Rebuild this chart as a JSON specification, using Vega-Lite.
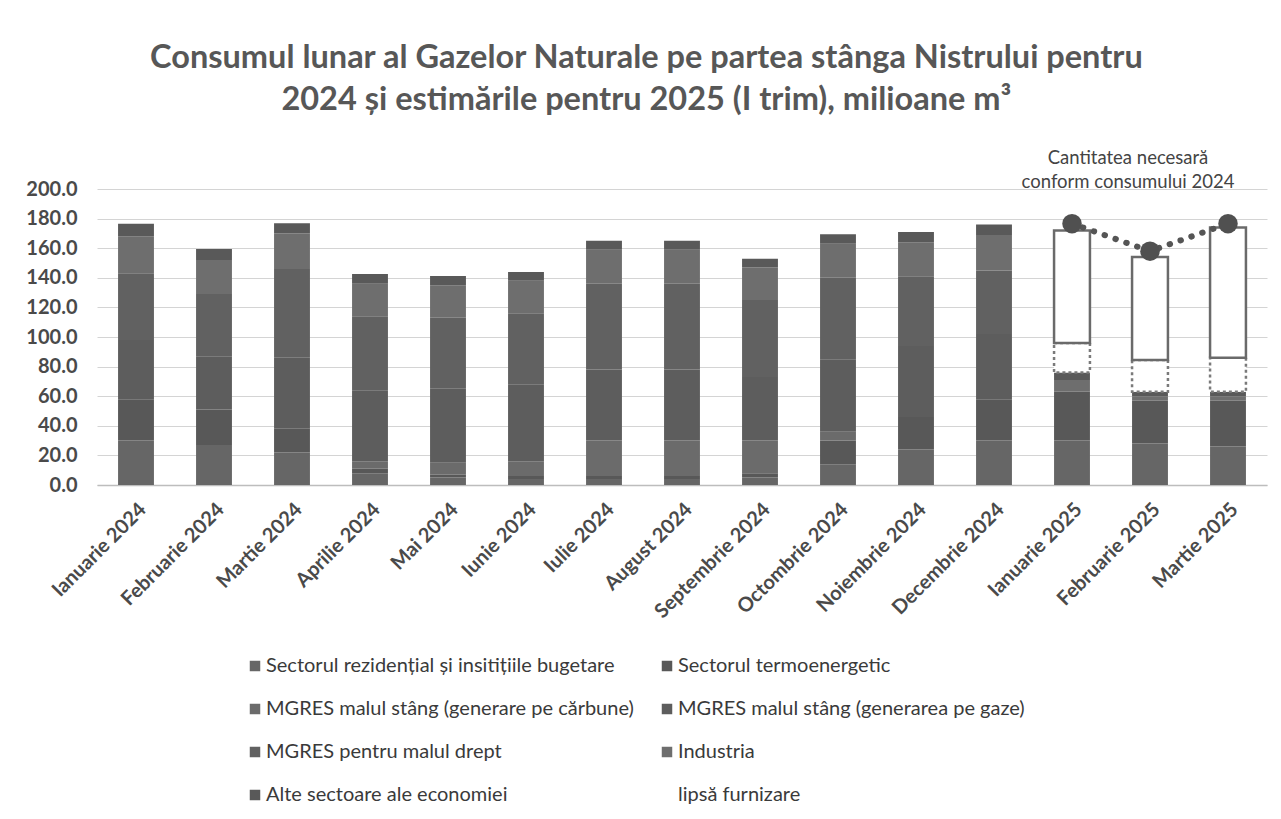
{
  "$schema": "https://vega.github.io/schema/vega-lite/v6.json",
  "width": 1170,
  "height": 296,
  "autosize": {"type": "none"},
  "padding": {"left": 97, "top": 189, "right": 14, "bottom": 334},
  "background": "white",
  "config": {
    "font": "Lato",
    "view": {"stroke": null}
  },
  "title": {
    "text": ["Consumul lunar al Gazelor Naturale pe partea stânga Nistrului pentru", "2024 și estimările pentru 2025 (I trim), milioane m³"],
    "fontSize": 32.5,
    "fontWeight": "bold",
    "color": "#575757",
    "lineHeight": 42,
    "anchor": "middle",
    "frame": "bounds",
    "offset": 32
  },
  "datasets": {
    "bars": [
      {"m": "Ianuarie 2024", "cat": "Sectorul rezidențial și insitițiile bugetare", "k": 1, "v": 30},
      {"m": "Ianuarie 2024", "cat": "Sectorul termoenergetic", "k": 2, "v": 28},
      {"m": "Ianuarie 2024", "cat": "MGRES malul stâng (generare pe cărbune)", "k": 3, "v": 0},
      {"m": "Ianuarie 2024", "cat": "MGRES malul stâng (generarea pe gaze)", "k": 4, "v": 40},
      {"m": "Ianuarie 2024", "cat": "MGRES pentru malul drept", "k": 5, "v": 45},
      {"m": "Ianuarie 2024", "cat": "Industria", "k": 6, "v": 25},
      {"m": "Ianuarie 2024", "cat": "Alte sectoare ale economiei", "k": 7, "v": 8.6},

      {"m": "Februarie 2024", "cat": "Sectorul rezidențial și insitițiile bugetare", "k": 1, "v": 27},
      {"m": "Februarie 2024", "cat": "Sectorul termoenergetic", "k": 2, "v": 24},
      {"m": "Februarie 2024", "cat": "MGRES malul stâng (generare pe cărbune)", "k": 3, "v": 0},
      {"m": "Februarie 2024", "cat": "MGRES malul stâng (generarea pe gaze)", "k": 4, "v": 36},
      {"m": "Februarie 2024", "cat": "MGRES pentru malul drept", "k": 5, "v": 42},
      {"m": "Februarie 2024", "cat": "Industria", "k": 6, "v": 23},
      {"m": "Februarie 2024", "cat": "Alte sectoare ale economiei", "k": 7, "v": 7.5},

      {"m": "Martie 2024", "cat": "Sectorul rezidențial și insitițiile bugetare", "k": 1, "v": 22},
      {"m": "Martie 2024", "cat": "Sectorul termoenergetic", "k": 2, "v": 16},
      {"m": "Martie 2024", "cat": "MGRES malul stâng (generare pe cărbune)", "k": 3, "v": 0},
      {"m": "Martie 2024", "cat": "MGRES malul stâng (generarea pe gaze)", "k": 4, "v": 48},
      {"m": "Martie 2024", "cat": "MGRES pentru malul drept", "k": 5, "v": 60},
      {"m": "Martie 2024", "cat": "Industria", "k": 6, "v": 24},
      {"m": "Martie 2024", "cat": "Alte sectoare ale economiei", "k": 7, "v": 6.8},

      {"m": "Aprilie 2024", "cat": "Sectorul rezidențial și insitițiile bugetare", "k": 1, "v": 8},
      {"m": "Aprilie 2024", "cat": "Sectorul termoenergetic", "k": 2, "v": 3},
      {"m": "Aprilie 2024", "cat": "MGRES malul stâng (generare pe cărbune)", "k": 3, "v": 5},
      {"m": "Aprilie 2024", "cat": "MGRES malul stâng (generarea pe gaze)", "k": 4, "v": 48},
      {"m": "Aprilie 2024", "cat": "MGRES pentru malul drept", "k": 5, "v": 50},
      {"m": "Aprilie 2024", "cat": "Industria", "k": 6, "v": 22},
      {"m": "Aprilie 2024", "cat": "Alte sectoare ale economiei", "k": 7, "v": 6.6},

      {"m": "Mai 2024", "cat": "Sectorul rezidențial și insitițiile bugetare", "k": 1, "v": 5},
      {"m": "Mai 2024", "cat": "Sectorul termoenergetic", "k": 2, "v": 2},
      {"m": "Mai 2024", "cat": "MGRES malul stâng (generare pe cărbune)", "k": 3, "v": 8},
      {"m": "Mai 2024", "cat": "MGRES malul stâng (generarea pe gaze)", "k": 4, "v": 50},
      {"m": "Mai 2024", "cat": "MGRES pentru malul drept", "k": 5, "v": 48},
      {"m": "Mai 2024", "cat": "Industria", "k": 6, "v": 22},
      {"m": "Mai 2024", "cat": "Alte sectoare ale economiei", "k": 7, "v": 6.2},

      {"m": "Iunie 2024", "cat": "Sectorul rezidențial și insitițiile bugetare", "k": 1, "v": 4},
      {"m": "Iunie 2024", "cat": "Sectorul termoenergetic", "k": 2, "v": 2},
      {"m": "Iunie 2024", "cat": "MGRES malul stâng (generare pe cărbune)", "k": 3, "v": 10},
      {"m": "Iunie 2024", "cat": "MGRES malul stâng (generarea pe gaze)", "k": 4, "v": 52},
      {"m": "Iunie 2024", "cat": "MGRES pentru malul drept", "k": 5, "v": 48},
      {"m": "Iunie 2024", "cat": "Industria", "k": 6, "v": 22},
      {"m": "Iunie 2024", "cat": "Alte sectoare ale economiei", "k": 7, "v": 6},

      {"m": "Iulie 2024", "cat": "Sectorul rezidențial și insitițiile bugetare", "k": 1, "v": 4},
      {"m": "Iulie 2024", "cat": "Sectorul termoenergetic", "k": 2, "v": 2},
      {"m": "Iulie 2024", "cat": "MGRES malul stâng (generare pe cărbune)", "k": 3, "v": 24},
      {"m": "Iulie 2024", "cat": "MGRES malul stâng (generarea pe gaze)", "k": 4, "v": 48},
      {"m": "Iulie 2024", "cat": "MGRES pentru malul drept", "k": 5, "v": 58},
      {"m": "Iulie 2024", "cat": "Industria", "k": 6, "v": 23},
      {"m": "Iulie 2024", "cat": "Alte sectoare ale economiei", "k": 7, "v": 6},

      {"m": "August 2024", "cat": "Sectorul rezidențial și insitițiile bugetare", "k": 1, "v": 4},
      {"m": "August 2024", "cat": "Sectorul termoenergetic", "k": 2, "v": 2},
      {"m": "August 2024", "cat": "MGRES malul stâng (generare pe cărbune)", "k": 3, "v": 24},
      {"m": "August 2024", "cat": "MGRES malul stâng (generarea pe gaze)", "k": 4, "v": 48},
      {"m": "August 2024", "cat": "MGRES pentru malul drept", "k": 5, "v": 58},
      {"m": "August 2024", "cat": "Industria", "k": 6, "v": 23},
      {"m": "August 2024", "cat": "Alte sectoare ale economiei", "k": 7, "v": 6},

      {"m": "Septembrie 2024", "cat": "Sectorul rezidențial și insitițiile bugetare", "k": 1, "v": 5},
      {"m": "Septembrie 2024", "cat": "Sectorul termoenergetic", "k": 2, "v": 3},
      {"m": "Septembrie 2024", "cat": "MGRES malul stâng (generare pe cărbune)", "k": 3, "v": 22},
      {"m": "Septembrie 2024", "cat": "MGRES malul stâng (generarea pe gaze)", "k": 4, "v": 43},
      {"m": "Septembrie 2024", "cat": "MGRES pentru malul drept", "k": 5, "v": 52},
      {"m": "Septembrie 2024", "cat": "Industria", "k": 6, "v": 22},
      {"m": "Septembrie 2024", "cat": "Alte sectoare ale economiei", "k": 7, "v": 5.9},

      {"m": "Octombrie 2024", "cat": "Sectorul rezidențial și insitițiile bugetare", "k": 1, "v": 14},
      {"m": "Octombrie 2024", "cat": "Sectorul termoenergetic", "k": 2, "v": 16},
      {"m": "Octombrie 2024", "cat": "MGRES malul stâng (generare pe cărbune)", "k": 3, "v": 6},
      {"m": "Octombrie 2024", "cat": "MGRES malul stâng (generarea pe gaze)", "k": 4, "v": 49},
      {"m": "Octombrie 2024", "cat": "MGRES pentru malul drept", "k": 5, "v": 55},
      {"m": "Octombrie 2024", "cat": "Industria", "k": 6, "v": 23},
      {"m": "Octombrie 2024", "cat": "Alte sectoare ale economiei", "k": 7, "v": 6.4},

      {"m": "Noiembrie 2024", "cat": "Sectorul rezidențial și insitițiile bugetare", "k": 1, "v": 24},
      {"m": "Noiembrie 2024", "cat": "Sectorul termoenergetic", "k": 2, "v": 22},
      {"m": "Noiembrie 2024", "cat": "MGRES malul stâng (generare pe cărbune)", "k": 3, "v": 0},
      {"m": "Noiembrie 2024", "cat": "MGRES malul stâng (generarea pe gaze)", "k": 4, "v": 48},
      {"m": "Noiembrie 2024", "cat": "MGRES pentru malul drept", "k": 5, "v": 47},
      {"m": "Noiembrie 2024", "cat": "Industria", "k": 6, "v": 23},
      {"m": "Noiembrie 2024", "cat": "Alte sectoare ale economiei", "k": 7, "v": 7},

      {"m": "Decembrie 2024", "cat": "Sectorul rezidențial și insitițiile bugetare", "k": 1, "v": 30},
      {"m": "Decembrie 2024", "cat": "Sectorul termoenergetic", "k": 2, "v": 28},
      {"m": "Decembrie 2024", "cat": "MGRES malul stâng (generare pe cărbune)", "k": 3, "v": 0},
      {"m": "Decembrie 2024", "cat": "MGRES malul stâng (generarea pe gaze)", "k": 4, "v": 44},
      {"m": "Decembrie 2024", "cat": "MGRES pentru malul drept", "k": 5, "v": 43},
      {"m": "Decembrie 2024", "cat": "Industria", "k": 6, "v": 24},
      {"m": "Decembrie 2024", "cat": "Alte sectoare ale economiei", "k": 7, "v": 7},

      {"m": "Ianuarie 2025", "cat": "Sectorul rezidențial și insitițiile bugetare", "k": 1, "v": 30},
      {"m": "Ianuarie 2025", "cat": "Sectorul termoenergetic", "k": 2, "v": 33},
      {"m": "Ianuarie 2025", "cat": "Industria", "k": 6, "v": 8},
      {"m": "Ianuarie 2025", "cat": "Alte sectoare ale economiei", "k": 7, "v": 5},
      {"m": "Ianuarie 2025", "cat": "rezervă", "k": 8, "v": 20},
      {"m": "Ianuarie 2025", "cat": "lipsă furnizare", "k": 9, "v": 76},

      {"m": "Februarie 2025", "cat": "Sectorul rezidențial și insitițiile bugetare", "k": 1, "v": 28},
      {"m": "Februarie 2025", "cat": "Sectorul termoenergetic", "k": 2, "v": 29},
      {"m": "Februarie 2025", "cat": "Industria", "k": 6, "v": 3},
      {"m": "Februarie 2025", "cat": "Alte sectoare ale economiei", "k": 7, "v": 3},
      {"m": "Februarie 2025", "cat": "rezervă", "k": 8, "v": 21.5},
      {"m": "Februarie 2025", "cat": "lipsă furnizare", "k": 9, "v": 69.5},

      {"m": "Martie 2025", "cat": "Sectorul rezidențial și insitițiile bugetare", "k": 1, "v": 26},
      {"m": "Martie 2025", "cat": "Sectorul termoenergetic", "k": 2, "v": 31},
      {"m": "Martie 2025", "cat": "Industria", "k": 6, "v": 3},
      {"m": "Martie 2025", "cat": "Alte sectoare ale economiei", "k": 7, "v": 3},
      {"m": "Martie 2025", "cat": "rezervă", "k": 8, "v": 23},
      {"m": "Martie 2025", "cat": "lipsă furnizare", "k": 9, "v": 88}
    ],
    "need": [
      {"m": "Ianuarie 2025", "v": 176.6},
      {"m": "Februarie 2025", "v": 158},
      {"m": "Martie 2025", "v": 176.6}
    ]
  },
  "encoding": {
    "x": {
      "field": "m",
      "type": "nominal",
      "sort": null,
      "scale": {
        "domain": ["Ianuarie 2024", "Februarie 2024", "Martie 2024", "Aprilie 2024", "Mai 2024", "Iunie 2024", "Iulie 2024", "August 2024", "Septembrie 2024", "Octombrie 2024", "Noiembrie 2024", "Decembrie 2024", "Ianuarie 2025", "Februarie 2025", "Martie 2025"],
        "paddingInner": 0.54,
        "paddingOuter": 0.27
      },
      "axis": {
        "title": null,
        "labelAngle": -45,
        "labelFontSize": 20,
        "labelFontWeight": "bold",
        "labelColor": "#4a4a4a",
        "labelPadding": 14,
        "labelOverlap": false,
        "ticks": false,
        "domainColor": "#bdbdbd",
        "domainWidth": 1.5
      }
    }
  },
  "layer": [
    {
      "data": {"name": "bars"},
      "mark": {"type": "bar", "strokeWidth": 2.5},
      "encoding": {
        "y": {
          "field": "v",
          "type": "quantitative",
          "stack": "zero",
          "scale": {"domain": [0, 200]},
          "axis": {
            "title": null,
            "values": [0, 20, 40, 60, 80, 100, 120, 140, 160, 180, 200],
            "tickCount": 11,
            "labelOverlap": false,
            "format": ".1f",
            "labelFontSize": 20,
            "labelFontWeight": "bold",
            "labelColor": "#4a4a4a",
            "labelPadding": 20,
            "ticks": false,
            "domain": false,
            "gridColor": "#d4d4d4",
            "gridWidth": 1
          }
        },
        "order": {"field": "k", "type": "quantitative", "sort": "ascending"},
        "color": {
          "field": "cat",
          "type": "nominal",
          "scale": {
            "domain": ["Sectorul rezidențial și insitițiile bugetare", "Sectorul termoenergetic", "MGRES malul stâng (generare pe cărbune)", "MGRES malul stâng (generarea pe gaze)", "MGRES pentru malul drept", "Industria", "Alte sectoare ale economiei", "lipsă furnizare", "rezervă"],
            "range": ["#666666", "#585858", "#6b6b6b", "#5d5d5d", "#616161", "#6e6e6e", "#595959", "#ffffff", "#ffffff"]
          },
          "legend": {
            "title": null,
            "orient": "none",
            "legendX": 148,
            "legendY": 467,
            "direction": "horizontal",
            "columns": 2,
            "values": ["Sectorul rezidențial și insitițiile bugetare", "Sectorul termoenergetic", "MGRES malul stâng (generare pe cărbune)", "MGRES malul stâng (generarea pe gaze)", "MGRES pentru malul drept", "Industria", "Alte sectoare ale economiei", "lipsă furnizare"],
            "symbolType": "square",
            "symbolSize": 110,
            "symbolStrokeWidth": 0,
            "labelFontSize": 20,
            "labelColor": "#3a3a3a",
            "labelLimit": 600,
            "labelOffset": 1,
            "rowPadding": 23,
            "columnPadding": 23,
            "padding": 0
          }
        },
        "stroke": {
          "condition": [
            {"test": "datum.cat === 'lipsă furnizare'", "value": "#6a6a6a"},
            {"test": "datum.cat === 'rezervă'", "value": "#7a7a7a"}
          ],
          "value": null
        },
        "strokeDash": {
          "condition": {"test": "datum.cat === 'rezervă'", "value": [3, 3]},
          "value": [1, 0]
        }
      }
    },
    {
      "data": {"name": "need"},
      "mark": {"type": "line", "color": "#555555", "strokeWidth": 6, "strokeDash": [0.5, 11], "strokeCap": "round"},
      "encoding": {
        "y": {"field": "v", "type": "quantitative"}
      }
    },
    {
      "data": {"name": "need"},
      "mark": {"type": "point", "filled": true, "color": "#505050", "opacity": 1, "size": 380, "shape": "circle"},
      "encoding": {
        "y": {"field": "v", "type": "quantitative"}
      }
    },
    {
      "data": {"values": [{}]},
      "mark": {"type": "text", "fontSize": 18.5, "color": "#444444", "lineHeight": 24, "align": "center", "baseline": "middle", "dx": -22},
      "encoding": {
        "x": {"datum": "Februarie 2025"},
        "y": {"datum": 221},
        "text": {"value": ["Cantitatea necesară", "conform consumului 2024"]}
      }
    }
  ]
}
